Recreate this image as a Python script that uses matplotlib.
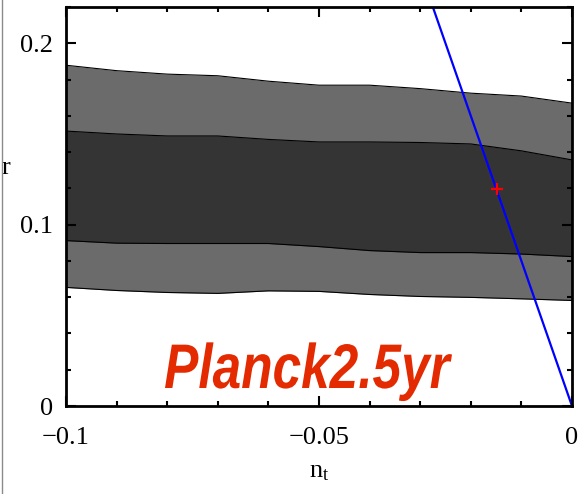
import numpy as np
import matplotlib.pyplot as plt
from matplotlib.lines import Line2D
from matplotlib.textpath import TextPath
from matplotlib.patches import PathPatch
from matplotlib.font_manager import FontProperties
from matplotlib.transforms import Affine2D, IdentityTransform

plt.rcParams['font.family'] = ['Liberation Serif', 'DejaVu Serif']

# n_t grid and contour boundaries
nt = [-0.10, -0.09, -0.08, -0.07, -0.06, -0.05, -0.04, -0.03, -0.02, -0.01, 0.0]
outer_hi = [0.1879, 0.1849, 0.1830, 0.1821, 0.1791, 0.1769, 0.1769, 0.1750, 0.1725, 0.1709, 0.1670]
inner_hi = [0.1516, 0.1500, 0.1489, 0.1489, 0.1470, 0.1456, 0.1456, 0.1453, 0.1445, 0.1407, 0.1357]
inner_lo = [0.0912, 0.0898, 0.0896, 0.0896, 0.0896, 0.0879, 0.0857, 0.0846, 0.0846, 0.0838, 0.0824]
outer_lo = [0.0654, 0.0637, 0.0626, 0.0621, 0.0635, 0.0632, 0.0615, 0.0604, 0.0599, 0.0591, 0.0582]

# consistency relation r = -8 n_t
line_nt = [-0.0275, 0.0]
line_r = [0.22, 0.0]

# marked point
pt_nt = -0.0148
pt_r = 0.1198

fig = plt.figure(figsize=(5.82, 4.94), dpi=100)
ax = fig.add_axes([0.1134, 0.1781, 0.9828 - 0.1134, 0.9858 - 0.1781])

ax.fill_between(nt, outer_lo, outer_hi, color='#6b6b6b', lw=0)
ax.fill_between(nt, inner_lo, inner_hi, color='#343434', lw=0)
for b in (outer_hi, inner_hi, inner_lo, outer_lo):
    ax.plot(nt, b, color='black', lw=0.8)

ax.plot(line_nt, line_r, color='#0000ff', lw=1.6, clip_on=True)
ax.plot(pt_nt, pt_r, marker='+', color='red', ms=9, mew=1.6)

# condensed bold italic label, squeezed horizontally
fp = FontProperties(family='Liberation Sans', weight='bold', style='italic')
tp = TextPath((0, 0), 'Planck2.5yr', size=63, prop=fp)
ext = tp.get_extents()
sx = 287 / ext.width
tr = Affine2D().scale(sx, 1.0).translate(165 - ext.x0 * sx, 494 - 388)
fig.add_artist(PathPatch(tp, transform=tr + IdentityTransform(), color='#e32a00', lw=0))

ax.set_xlim(-0.1, 0)
ax.set_ylim(0, 0.22)
ax.set_xticks([-0.1, -0.05, 0])
ax.set_xticklabels(['\u22120.1', '\u22120.05', '0'])
ax.set_xticks(np.arange(-0.1, 0.001, 0.01), minor=True)
ax.set_yticks([0, 0.1, 0.2])
ax.set_yticklabels(['0', '0.1', '0.2'])
ax.set_yticks(np.arange(0, 0.221, 0.02), minor=True)
ax.tick_params(which='both', direction='in', top=True, right=True, width=1.5, labelsize=19)
ax.tick_params(which='major', length=7)
ax.tick_params(which='minor', length=3.5)
ax.tick_params(axis='x', pad=15)
ax.tick_params(axis='y', pad=9)
for s in ax.spines.values():
    s.set_linewidth(2.0)

ax.set_xlabel(r'$\mathregular{n_t}$', fontsize=19, labelpad=9)
ax.set_ylabel('r', fontsize=19, rotation=0, labelpad=0)
ax.yaxis.set_label_coords(-0.118, 0.57)

fig.add_artist(Line2D([0.003, 0.003], [0, 1], transform=fig.transFigure, color='#8a8a8a', lw=1))

fig.savefig('out.png', dpi=100)
